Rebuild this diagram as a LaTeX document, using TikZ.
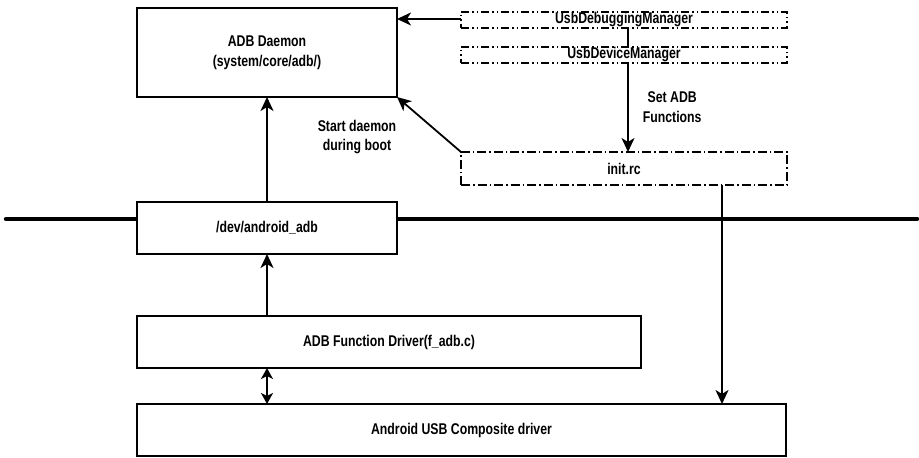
\documentclass[tikz,border=0pt]{standalone}
\usepackage{fontspec}
\setmainfont[FakeStretch=0.79]{Liberation Sans}
\usetikzlibrary{arrows.meta}
\begin{document}
\begin{tikzpicture}[x=1bp,y=-1bp,
  font=\fontsize{15.6}{20}\selectfont\bfseries,
  box/.style={draw, line width=1.8bp, rectangle, inner sep=0pt, outer sep=0pt, fill=white, align=center},
  ddbox/.style={box, dash pattern=on 8bp off 3bp on 1.5bp off 3bp on 1.5bp off 3bp},
  dbox/.style={box, dash pattern=on 9bp off 3bp on 1.5bp off 3bp},
  conn/.style={line width=1.8bp},
  arr/.style={conn, -{Stealth[length=14bp,width=13bp,inset=4bp]}},
  darr/.style={conn, {Stealth[length=11bp,width=12bp,inset=3bp]}-{Stealth[length=11bp,width=12bp,inset=3bp]}},
  lbl/.style={align=center, inner sep=0pt}
]
\useasboundingbox (0,0) rectangle (919,458);
% bus line
\coordinate (L) at (6,219);
\coordinate (R) at (917,219);
\draw[line width=4.5bp, line cap=round] (L) -- (R);

\node[box, minimum width=260bp, minimum height=89bp] (daemon) at (267,52.5) {ADB Daemon\\(system/core/adb/)};
\node[box, minimum width=260bp, minimum height=52bp] (dev) at (267,228) {/dev/android\_adb};
\node[box, minimum width=504bp, minimum height=52bp] (fdrv) at (389,342) {ADB Function Driver(f\_adb.c)};
\node[box, minimum width=649bp, minimum height=52bp] (comp) at (461.5,430) {Android USB Composite driver};
\node[ddbox, minimum width=326bp, minimum height=16bp] (dbg) at (624,20) {UsbDebuggingManager};
\node[ddbox, minimum width=326bp, minimum height=16bp] (devm) at (624,55) {UsbDeviceManager};
\node[dbox, minimum width=326bp, minimum height=33bp] (init) at (624,168.5) {init.rc};

\draw[arr] ([yshift=1bp]dbg.west) -- ([yshift=1bp]daemon.east |- dbg.west);
\draw[conn] ([xshift=4bp]dbg.south) -- ([xshift=4bp]devm.north);
\draw[arr] ([xshift=4bp]devm.south) -- ([xshift=4bp]init.north)
  node[lbl, pos=0.5, right=14bp] (setlbl) {Set ADB\\Functions};
\draw[arr] (init.north west) -- (daemon.south east);
\node[lbl] (startlbl) at (357,137) {Start daemon\\during boot};
\draw[arr] (dev.north) -- (daemon.south);
\draw[arr] (fdrv.north -| dev.south) -- (dev.south);
\draw[darr] (fdrv.south -| dev.south) -- (comp.north -| dev.south);
\coordinate (ib) at ([xshift=98bp]init.south);
\draw[arr] (ib) -- (ib |- comp.north);
\end{tikzpicture}
\end{document}
